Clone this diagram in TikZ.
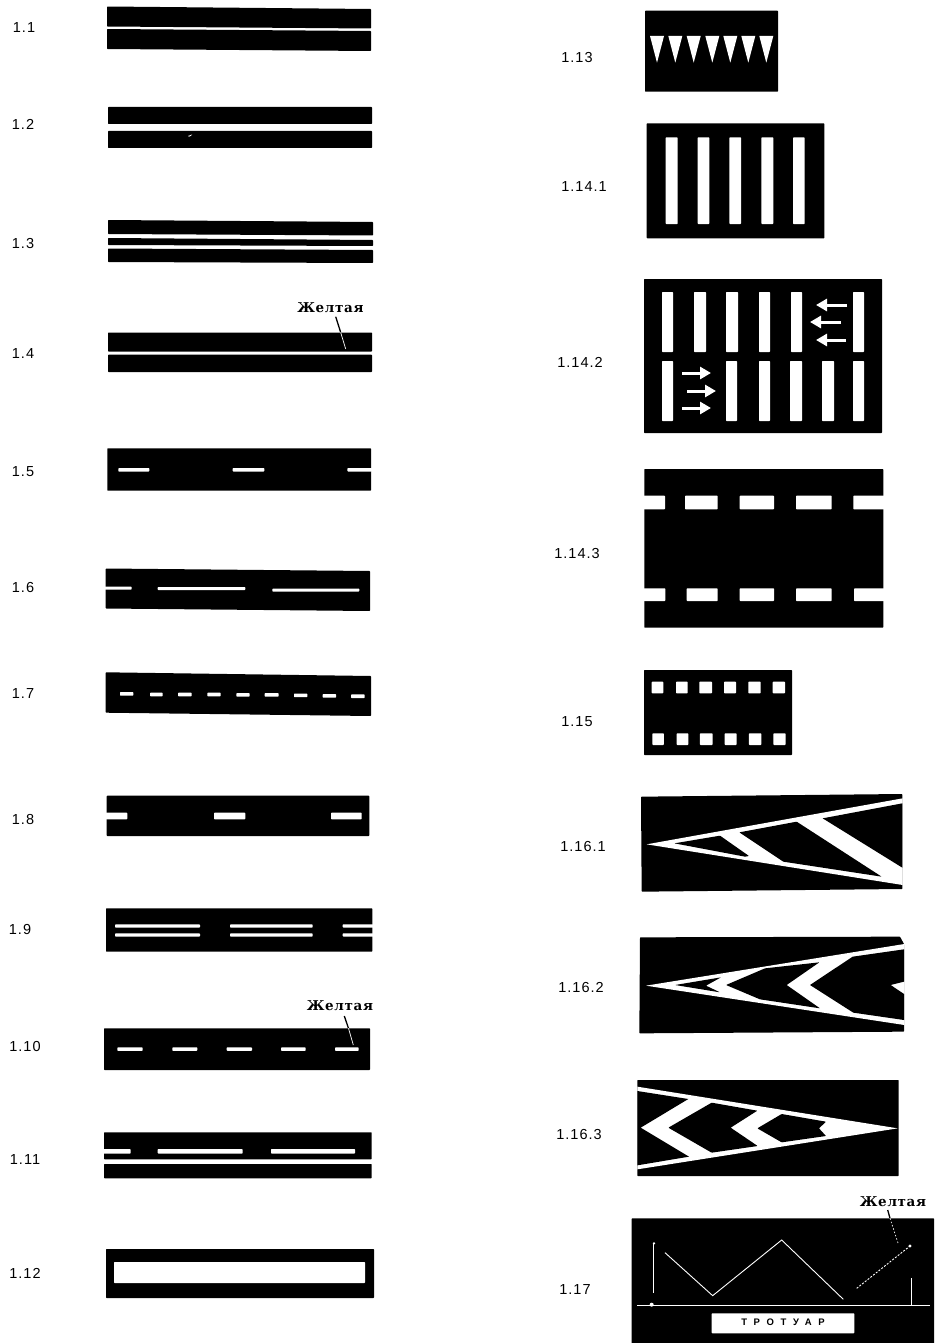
\documentclass[tikz,border=0pt]{standalone}
\usepackage{fontspec}
\setmainfont[LetterSpace=7]{Liberation Sans}
\newfontfamily\yellowfont[LetterSpace=5]{DejaVu Serif}
\newfontfamily\walkfont[LetterSpace=70]{Liberation Sans}
\usetikzlibrary{arrows.meta}
\tikzset{
  road/.style={fill=black,rounded corners=0.6pt},
  paint/.style={fill=white,rounded corners=0.7pt},
  num/.style={inner sep=0pt,font=\fontsize{14.5}{16}\selectfont},
  yellownote/.style={inner sep=0pt,font=\fontsize{13.5}{15}\selectfont\yellowfont\bfseries},
  leaderout/.style={draw=black,line width=1.3pt},
  leaderin/.style={draw=white,line width=0.7pt},
  walkarrow/.style={draw=white,line width=3pt,-{Triangle[length=11pt,width=12pt]}},
  thinpaint/.style={draw=white,line width=0.9pt},
}
\begin{document}
\begin{tikzpicture}[x=1pt,y=-1pt]
\useasboundingbox (0,0) rectangle (934,1343);
\fill[white] (0,0) rectangle (934,1343);
% number labels
\foreach \t/\n/\x/\y in {1.1/a/24/28,1.2/b/23/124,1.3/c/23/244,1.4/d/23/354,1.5/e/23/472,1.6/f/23/588,1.7/g/23/694,1.8/h/23/819,1.9/i/20/929,1.10/j/25/1046,1.11/k/25/1159,1.12/l/25/1273,1.13/m/577/58,1.14.1/n/584/187,1.14.2/o/580/362,1.14.3/p/577/554,1.15/q/577/722,1.16.1/r/583/846,1.16.2/s/581/987,1.16.3/t/579/1134,1.17/u/575/1289}
  \node[num] (lab\n) at (\x,\y) {\t};
% 1.1
\fill[road] (107,6.5)--(371,9)--(371,28.5)--(107,26.5)--cycle;
\fill[road] (107,29)--(371,31)--(371,51)--(107,49)--cycle;
% 1.2
\fill[road] (108,107) rectangle (372,124);
\fill[road] (108,131) rectangle (372,148);
\fill[fill=white] (188,136) -- (192,134.5) -- (191,135.8) -- (189,136.6) --cycle;
% 1.3
\fill[road] (108,220)--(373,222)--(373,235.5)--(108,234)--cycle;
\fill[road] (108,238)--(373,240)--(373,246)--(108,245)--cycle;
\fill[road] (108,248.5)--(373,250)--(373,263)--(108,262)--cycle;
% 1.4
\fill[road] (108,332.5) rectangle (372,351.5);
\fill[road] (108,354.7) rectangle (372,372);
% 1.5
\fill[road] (107.3,448.3) rectangle (371,490.7);
\foreach \a/\b in {118.3/149.3,232.7/264.3,347.3/372} \fill[paint] (\a,468) rectangle (\b,471.5);
% 1.6
\fill[road] (105.7,568.5)--(370,571)--(370,611)--(105.7,608.5)--cycle;
\fill[paint] (104,586.5) rectangle (131.7,589.5);
\fill[paint] (157.7,587) rectangle (245.3,590);
\fill[paint] (272.3,588.5) rectangle (359.3,591.5);
% 1.7
\fill[road] (105.7,672.3)--(371,676)--(371,716)--(105.7,712.7)--cycle;
\foreach \a/\b/\c in {120/133.3/692,150/162.7/692.7,178/191.7/692.7,207.3/220.7/692.7,236.3/249.7/693,264.7/278.7/693,294/307.3/693.5,322.7/336/694,351/364.7/694.3}
  \fill[paint] (\a,\c) rectangle (\b,\c+3.7);
% 1.8
\fill[road] (106.7,795.7) rectangle (369.3,836);
\foreach \a/\b in {105/127.3,214/245.3,331/361.7} \fill[paint] (\a,812.7) rectangle (\b,819.3);
% 1.9
\fill[road] (106,908.3) rectangle (372.3,951.7);
\foreach \a/\b in {115/200,230/312.7,342.7/373.5} {
  \fill[paint] (\a,924.3) rectangle (\b,927.6);
  \fill[paint] (\a,933.3) rectangle (\b,936.6);
}
% 1.10
\fill[road] (104,1028.3) rectangle (370,1070);
\foreach \a/\b in {117.3/142.7,172.3/197.3,226.7/252,281/305.7,335/358.7} \fill[paint] (\a,1047.3) rectangle (\b,1050.8);
% 1.11
\fill[road] (104,1132.3) rectangle (371.7,1159.3);
\fill[road] (104,1164) rectangle (371.7,1178.3);
\fill[paint] (103,1149) rectangle (130.7,1153.5);
\fill[paint] (157.7,1149) rectangle (242.7,1153.5);
\fill[paint] (271,1149) rectangle (355,1153.5);
% 1.12
\fill[road] (106,1249) rectangle (374,1298);
\fill[paint] (114,1262) rectangle (365,1283);
% 1.13
\fill[road] (645,10.7) rectangle (778,91.7);
\foreach \a in {650,668.3,686.7,705.3,723.3,741.3,759.3}
  \fill[fill=white] (\a,36) -- (\a+14,36) -- (\a+7,62.7) -- cycle;
% 1.14.1
\fill[road] (646.7,123.3) rectangle (824.3,238.3);
\foreach \a/\b in {665.7/677.7,697.7/709.3,729.3/741,761.3/773.3,793/804.7} \fill[paint] (\a,137.3) rectangle (\b,224);
% 1.14.2
\fill[road] (644,279) rectangle (882,433);
\foreach \a/\b in {662/673,694/706,726/738,759/770,791/802,853/864} \fill[paint] (\a,292) rectangle (\b,352);
\foreach \a/\b in {662/673,726/737,759/770,790/802,822/834,853/864} \fill[paint] (\a,361) rectangle (\b,421);
\foreach \a/\b/\c in {847/816/305,841/810/322,846/816/340,682/711/373,687/716/391,682/711/408}
  \draw[walkarrow] (\a,\c) -- (\b,\c);
% 1.14.3
\fill[road] (644.3,469) rectangle (883.3,627.7);
\foreach \a/\b in {643/665,685/717.7,739.7/774,796/831.7,853.3/885} \fill[paint] (\a,495.7) rectangle (\b,509.3);
\foreach \a/\b in {643/665.3,686.7/717.7,739.7/774,796/831.7,854/885} \fill[paint] (\a,588.3) rectangle (\b,601);
% 1.15
\fill[road] (644,670) rectangle (792,755);
\foreach \a/\b in {651.7/663.3,676/687.7,699.3/712,724/736,748.3/760.7,772.7/785} {
  \fill[paint] (\a,681.7) rectangle (\b,693.3);
  \fill[paint] (\a+.6,733.3) rectangle (\b+.6,745);
}
% 1.16.1 and 1.16.2
\begin{scope}[shift={(630,790)},scale=0.33333]
  \fill[road] (33,20)--(817,12)--(817,297)--(35,305)--cycle;
  \fill[fill=white] (50,163)--(818,25)--(818,285)--cycle;
  \fill[road] (133,160)--(270,137)--(357,198)--(345,200)--cycle;
  \fill[road] (328,127)--(500,95)--(755,260)--(460,215)--cycle;
  \fill[fill=black] (578,85)--(817,40)--(817,233)--cycle;
  \fill[road] (30,442)--(810,440)--(822,462)--(822,725)--(28,730)--cycle;
  \fill[fill=white] (48,587)--(823,462)--(823,705)--cycle;
  \fill[road] (135,585)--(273,562)--(228,587)--(270,607)--cycle;
  \fill[road] (288,585)--(405,535)--(568,517)--(470,585)--(570,655)--(390,628)--cycle;
  \fill[fill=black] (540,585)--(668,500)--(822,478)--(822,575)--(782,585)--(822,612)--(822,690)--(670,668)--cycle;
\end{scope}
% 1.16.3 and 1.17
\begin{scope}[shift={(620,1060)},scale=0.33333]
  \fill[road] (52,60) rectangle (836,348);
  \fill[fill=white] (833,205)--(52,80)--(52,328)--cycle;
  \fill[fill=black] (52,93)--(205,117)--(62,203)--(207,290)--(52,316)--cycle;
  \fill[road] (275,128)--(412,152)--(332,203)--(413,258)--(275,278)--(145,203)--cycle;
  \fill[road] (485,162)--(618,185)--(597,205)--(618,228)--(485,247)--(412,205)--cycle;
  \fill[road] (35,475) rectangle (942,850);
  \draw[thinpaint] (100,548)--(100,700);
  \draw[thinpaint] (135,578)--(278,707)--(485,540)--(670,718);
  \draw[thinpaint,dash pattern=on 2pt off 1.5pt] (710,685)--(870,558);
  \fill[fill=white] (870,558) circle (5);
  \fill[fill=white] (102,550) circle (4);
  \draw[thinpaint] (52,737)--(930,737);
  \draw[thinpaint] (873,655)--(873,737);
  \fill[fill=white] (95,734) circle (6);
  \fill[paint] (275,760) rectangle (703,820);
  \node[inner sep=0pt,text=black,font=\fontsize{9.5}{11}\selectfont\walkfont\bfseries] (walk) at (489,788) {ТРОТУАР};
\end{scope}
% yellow notes with their leaders
\node[yellownote] (y4) at (330.5,308) {Желтая};
\coordinate (y4a) at (335.7,316.7); \coordinate (y4b) at (340.7,332.5); \coordinate (y4c) at (345.7,349);
\draw[leaderout] (y4a)--(y4b); \draw[leaderin] (y4b)--(y4c);
\node[yellownote] (y10) at (340,1006) {Желтая};
\coordinate (y10a) at (344.3,1016); \coordinate (y10b) at (348.5,1028.3); \coordinate (y10c) at (353.3,1045);
\draw[leaderout] (y10a)--(y10b); \draw[leaderin] (y10b)--(y10c);
\node[yellownote] (y17) at (893,1202) {Желтая};
\coordinate (y17a) at (887.7,1210); \coordinate (y17b) at (890,1218.3); \coordinate (y17c) at (898,1243);
\draw[leaderout] (y17a)--(y17b); \draw[leaderin,dash pattern=on 1.5pt off 2pt] (y17b)--(y17c);
\end{tikzpicture}
\end{document}
